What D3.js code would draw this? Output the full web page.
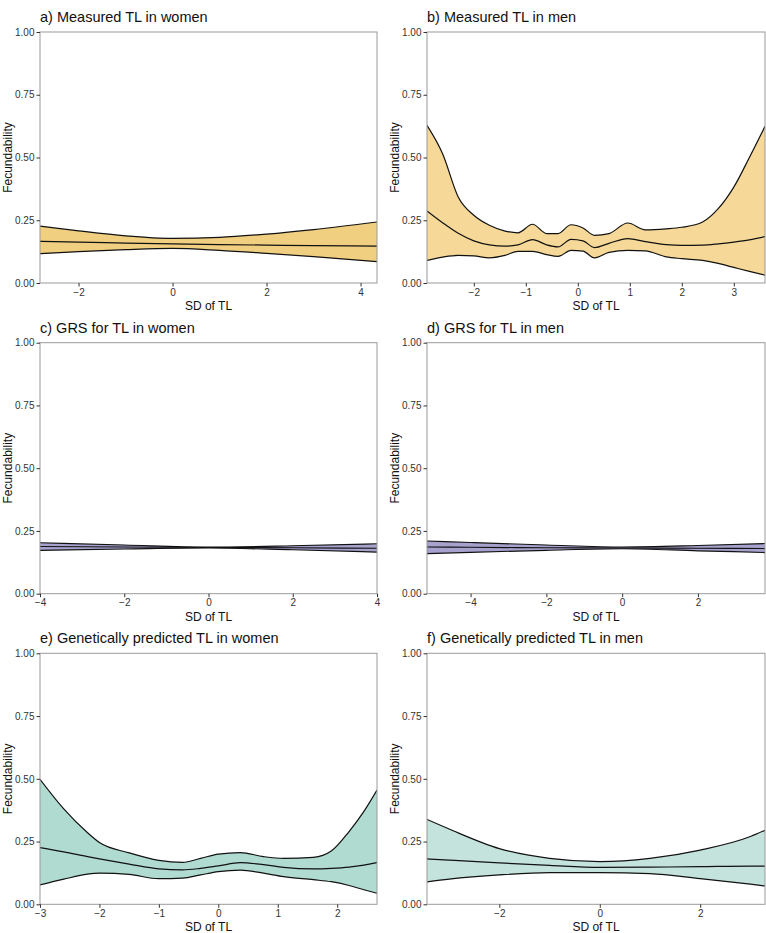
<!DOCTYPE html>
<html>
<head>
<meta charset="utf-8">
<script src="https://cdn.jsdelivr.net/npm/d3@7"></script>
<style>
  body { margin: 0; background: #fff; }
  text { font-family: "Liberation Sans", Arial, sans-serif; }
</style>
</head>
<body>
<div id="chart"></div>
<script>
// a) Measured TL in women
const aX     = [-2.82, -2, -1, 0, 1, 2, 3, 4.35];
const aUpper = [0.227, 0.208, 0.188, 0.178, 0.182, 0.195, 0.213, 0.243];
const aMid   = [0.166, 0.163, 0.159, 0.156, 0.153, 0.151, 0.149, 0.147];
const aLower = [0.117, 0.125, 0.133, 0.138, 0.130, 0.118, 0.105, 0.085];

// b) Measured TL in men
const bX     = [-2.9, -2.6, -2.3, -2.0, -1.7, -1.4, -1.15, -0.87, -0.6, -0.38, -0.13, 0.1, 0.32, 0.6, 0.96, 1.3, 1.7, 2.0, 2.4, 2.7, 3.0, 3.3, 3.6];
const bUpper = [0.628, 0.515, 0.343, 0.270, 0.230, 0.207, 0.200, 0.234, 0.197, 0.197, 0.232, 0.219, 0.190, 0.197, 0.239, 0.212, 0.216, 0.222, 0.243, 0.296, 0.382, 0.500, 0.624];
const bMid   = [0.287, 0.240, 0.198, 0.168, 0.152, 0.147, 0.152, 0.173, 0.152, 0.144, 0.174, 0.168, 0.141, 0.158, 0.177, 0.165, 0.153, 0.150, 0.151, 0.156, 0.163, 0.172, 0.185];
const bLower = [0.090, 0.103, 0.110, 0.108, 0.100, 0.110, 0.126, 0.126, 0.113, 0.106, 0.130, 0.127, 0.100, 0.122, 0.130, 0.128, 0.104, 0.097, 0.090, 0.078, 0.062, 0.046, 0.031];

// c) GRS for TL in women
const cX     = [-4, -2, 0, 2, 4];
const cUpper = [0.203, 0.194, 0.186, 0.191, 0.199];
const cMid   = [0.188, 0.186, 0.184, 0.183, 0.181];
const cLower = [0.173, 0.178, 0.182, 0.175, 0.166];

// d) GRS for TL in men
const dX     = [-5.15, -4, -2, 0, 2, 3.77];
const dUpper = [0.210, 0.204, 0.194, 0.186, 0.192, 0.200];
const dMid   = [0.186, 0.185, 0.183, 0.182, 0.181, 0.180];
const dLower = [0.160, 0.165, 0.173, 0.179, 0.171, 0.164];

// e) Genetically predicted TL in women
const eX     = [-3, -2.6, -2.2, -2.0, -1.5, -1.0, -0.6, -0.3, 0.0, 0.37, 0.76, 1.1, 1.6, 1.9, 2.2, 2.45, 2.67];
const eUpper = [0.498, 0.380, 0.285, 0.246, 0.205, 0.175, 0.167, 0.183, 0.200, 0.206, 0.190, 0.183, 0.187, 0.212, 0.290, 0.370, 0.455];
const eMid   = [0.226, 0.209, 0.190, 0.181, 0.160, 0.141, 0.137, 0.143, 0.153, 0.166, 0.158, 0.147, 0.141, 0.143, 0.148, 0.156, 0.166];
const eLower = [0.077, 0.100, 0.120, 0.124, 0.119, 0.102, 0.104, 0.117, 0.130, 0.136, 0.124, 0.110, 0.098, 0.090, 0.075, 0.058, 0.044];

// f) Genetically predicted TL in men
const fX     = [-3.44, -3, -2, -1, 0, 1, 2, 3, 3.29];
const fUpper = [0.338, 0.300, 0.222, 0.183, 0.170, 0.183, 0.216, 0.270, 0.295];
const fMid   = [0.181, 0.176, 0.165, 0.155, 0.147, 0.148, 0.150, 0.152, 0.152];
const fLower = [0.089, 0.100, 0.117, 0.126, 0.126, 0.122, 0.102, 0.080, 0.073];

const yTicks = [0, 0.25, 0.5, 0.75, 1];

const panels = [
    { title: "a) Measured TL in women", x: aX, up: aUpper, mid: aMid, lo: aLower, domain: [-2.82, 4.35], ticks: [-2, 0, 2, 4], fill: "#f1cf80", col: 0, row: 0 },
    { title: "b) Measured TL in men", x: bX, up: bUpper, mid: bMid, lo: bLower, domain: [-2.9, 3.6], ticks: [-2, -1, 0, 1, 2, 3], fill: "#f6d999", col: 1, row: 0 },
    { title: "c) GRS for TL in women", x: cX, up: cUpper, mid: cMid, lo: cLower, domain: [-4, 4], ticks: [-4, -2, 0, 2, 4], fill: "#a6a2cd", col: 0, row: 1 },
    { title: "d) GRS for TL in men", x: dX, up: dUpper, mid: dMid, lo: dLower, domain: [-5.15, 3.77], ticks: [-4, -2, 0, 2], fill: "#a6a2cd", col: 1, row: 1 },
    { title: "e) Genetically predicted TL in women", x: eX, up: eUpper, mid: eMid, lo: eLower, domain: [-3, 2.67], ticks: [-3, -2, -1, 0, 1, 2], fill: "#b0dbd0", col: 0, row: 2 },
    { title: "f) Genetically predicted TL in men", x: fX, up: fUpper, mid: fMid, lo: fLower, domain: [-3.44, 3.29], ticks: [-2, 0, 2], fill: "#c4e3dc", col: 1, row: 2 }
];

const W = 766, H = 933;
const colLeft = [40, 427], colRight = [377, 765];
const rowTop = [32, 342.7, 653.3], plotH = 251;

const svg = d3.select("#chart").append("svg")
    .attr("width", W)
    .attr("height", H);

panels.forEach((p, i) => {
    const left = colLeft[p.col], right = colRight[p.col];
    const top = rowTop[p.row], bottom = top + plotH;

    const x = d3.scaleLinear().domain(p.domain).range([left, right]);
    const y = d3.scaleLinear().domain([0, 1]).range([bottom, top]);

    const pts = p.x.map((v, k) => ({ x: v, up: p.up[k], mid: p.mid[k], lo: p.lo[k] }));
    const g = svg.append("g");

    g.append("clipPath").attr("id", "clip" + i)
        .append("rect").attr("x", left).attr("y", top)
        .attr("width", right - left).attr("height", plotH);

    const body = g.append("g").attr("clip-path", `url(#clip${i})`);
    const curve = d3.curveMonotoneX;

    body.append("path")
        .datum(pts)
        .attr("fill", p.fill)
        .attr("d", d3.area().curve(curve).x(d => x(d.x)).y0(d => y(d.lo)).y1(d => y(d.up)));

    ["up", "mid", "lo"].forEach(key => {
        body.append("path")
            .datum(pts)
            .attr("fill", "none")
            .attr("stroke", "#111")
            .attr("stroke-width", 1.2)
            .attr("d", d3.line().curve(curve).x(d => x(d.x)).y(d => y(d[key])));
    });

    // panel border
    g.append("rect")
        .attr("x", left).attr("y", top)
        .attr("width", right - left).attr("height", plotH)
        .attr("fill", "none").attr("stroke", "#9a9a9a").attr("stroke-width", 1);

    // axes
    const yAxis = g.append("g").attr("transform", `translate(${left},0)`)
        .call(d3.axisLeft(y).tickValues(yTicks).tickFormat(d3.format(".2f")).tickSize(3.5).tickPadding(2));
    const xAxis = g.append("g").attr("transform", `translate(0,${bottom})`)
        .call(d3.axisBottom(x).tickValues(p.ticks).tickFormat(d3.format("d")).tickSize(3.5).tickPadding(2));
    [yAxis, xAxis].forEach(a => {
        a.select(".domain").remove();
        a.selectAll("line").attr("stroke", "#333");
        a.selectAll("text").attr("fill", "#333").style("font-size", "10px")
            .style("font-family", "'Liberation Sans', Arial, sans-serif");
    });

    // titles
    g.append("text")
        .attr("x", left).attr("y", top - 10)
        .style("font-size", "14.5px").attr("fill", "#111")
        .text(p.title);

    g.append("text")
        .attr("x", (left + right) / 2).attr("y", bottom + 27)
        .attr("text-anchor", "middle")
        .style("font-size", "12px").attr("fill", "#111")
        .text("SD of TL");

    g.append("text")
        .attr("transform", `translate(${left - 28},${(top + bottom) / 2}) rotate(-90)`)
        .attr("text-anchor", "middle")
        .style("font-size", "12px").attr("fill", "#111")
        .text("Fecundability");
});
</script>
</body>
</html>
